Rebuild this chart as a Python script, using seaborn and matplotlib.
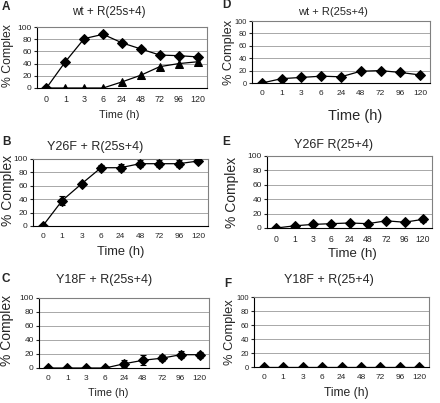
import numpy as np
import matplotlib
matplotlib.use("Agg")
import matplotlib.pyplot as plt
import seaborn as sns

# time points (category axis)
times = ["0", "1", "3", "6", "24", "48", "72", "96", "120"]

# panel A: wt + R(25s+4), two series
a_diamond = [0, 43, 81, 88, 74, 64, 54, 53, 51]
a_triangle = [0, 0, 0, 0, 10, 21, 35, 40, 43]
# panel B: Y26F + R(25s+4)
b_vals = [0, 38, 63, 87, 87, 93, 93, 93, 97]
b_err = [0, 7, 2, 4, 5, 5, 5, 5, 3]
# panel C: Y18F + R(25s+4)
c_vals = [0, 0, 0, 0, 6, 11, 14, 19, 19]
c_err = [0, 0, 0, 0, 5, 7, 4, 5, 4]
# panel D: wt + R(25s+4)
d_vals = [0, 7, 9, 11, 10, 19, 20, 17, 13]
# panel E: Y26F R(25+4)
e_vals = [0, 3, 5, 6, 7, 6, 10, 8, 12]
e_err = [0, 1, 2, 2, 2, 2, 2, 2, 3]
# panel F: Y18F + R(25+4)
f_vals = [0, 0, 0, 0, 0, 0, 0, 0, 0]

sns.set_style("white")
plt.rcParams['font.family'] = ['Liberation Sans', 'DejaVu Sans']

W, H = 440, 403
fig = plt.figure(figsize=(W / 100, H / 100), dpi=100)
pos = np.arange(len(times))


def px_axes(l, r, t, b):
    return fig.add_axes([l / W, 1 - b / H, (r - l) / W, (b - t) / H])


def txt(x, y, s, size, **kw):
    fig.text(x / W, 1 - y / H, s, fontsize=size, ha='center', va='center', **kw)


def panel(box, letter, lpos, title, tpos, tsize, ylpos, ylsize, xlpos, xlsize,
          xtsize, ytsize, series):
    ax = px_axes(*box)
    for vals, err, mk, ms in series:
        sns.lineplot(x=pos, y=vals, ax=ax, color='black', lw=0.9, marker=mk,
                     markersize=ms, markeredgecolor='black', zorder=3)
        if err is not None:
            ax.errorbar(pos, vals, yerr=err, fmt='none', ecolor='black',
                        elinewidth=0.8, capsize=2.3, capthick=0.8, zorder=2)
    ax.set_xlim(-0.5, 8.5)
    ax.set_ylim(0, 100)
    ax.set_yticks([0, 20, 40, 60, 80, 100])
    ax.set_xticks(pos)
    ax.set_xticklabels(times)
    ax.tick_params(axis='x', length=0, labelsize=xtsize, pad=5)
    ax.tick_params(axis='y', length=2.2, width=0.8, labelsize=ytsize, pad=1.5, left=True)
    ax.grid(axis='y', color='#a8a8a8', lw=0.7)
    ax.set_axisbelow(True)
    for s in ['top', 'right']:
        ax.spines[s].set_color('#808080')
        ax.spines[s].set_linewidth(0.8)
    for s in ['left', 'bottom']:
        ax.spines[s].set_color('black')
        ax.spines[s].set_linewidth(0.8)
    ax.set_xlabel('')
    ax.set_ylabel('')
    fig.text(lpos[0] / W, 1 - lpos[1] / H, letter, fontsize=8.5, fontweight='bold',
             ha='left', va='center')
    txt(tpos[0], tpos[1], title, tsize)
    txt(ylpos[0], ylpos[1], '% Complex', ylsize, rotation=90)
    txt(xlpos[0], xlpos[1], 'Time (h)', xlsize)
    return ax


panel((37, 207, 27, 88), 'A', (2, 7), 'wt + R(25s+4)', (109, 12), 8.4,
      (8, 56), 8.8, (119, 115), 7.8, 6.4, 6.0,
      [(a_diamond, None, 'D', 4.8), (a_triangle, None, '^', 6.3)])
panel((33, 208, 159, 226), 'B', (2, 142), 'Y26F + R(25s+4)', (95, 147), 9.0,
      (8, 190), 10.0, (121, 252), 9.3, 6.0, 6.0,
      [(b_vals, b_err, 'D', 4.8)])
panel((39, 209, 298, 368), 'C', (2, 279), 'Y18F + R(25s+4)', (104, 280), 9.0,
      (7, 330), 10.0, (108, 393), 7.8, 6.0, 6.0,
      [(c_vals, c_err, 'D', 4.8)])
panel((252, 430, 21, 83), 'D', (222, 5), 'wt + R(25s+4)', (333, 12), 8.0,
      (229, 52), 9.2, (355, 116), 10.5, 6.0, 5.3,
      [(d_vals, None, 'D', 4.8)])
panel((267, 432, 156, 228), 'E', (222, 142), 'Y26F R(25+4)', (334, 145), 9.0,
      (232, 192), 10.0, (352, 254), 9.5, 6.2, 6.0,
      [(e_vals, e_err, 'D', 4.8)])
panel((254, 429, 297, 367), 'F', (224, 284), 'Y18F + R(25+4)', (329, 280), 9.0,
      (230, 332), 9.3, (346, 393), 8.7, 6.0, 5.5,
      [(f_vals, None, 'D', 4.8)])

fig.savefig('out.png', dpi=100)
